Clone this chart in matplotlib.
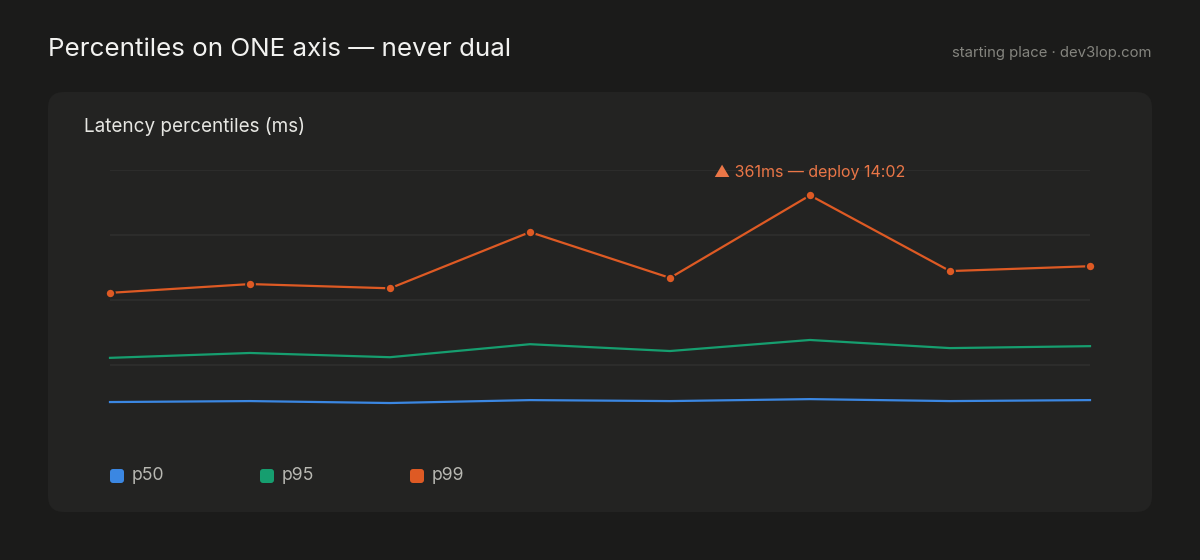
import matplotlib.pyplot as plt
from matplotlib.patches import FancyBboxPatch

plt.rcParams['font.family'] = ['Inter', 'DejaVu Sans']

# data
slots = list(range(8))
p50 = [43, 44.5, 41.5, 46, 44.5, 47.5, 44.5, 46]
p95 = [111, 118.5, 112, 132, 121.5, 138.5, 126, 129]
p99 = [211, 224.5, 218, 304.5, 234, 361, 244.5, 252]
series_names = ['p50', 'p95', 'p99']
series_colors = ['#3b87e2', '#169e6f', '#de5a24']
y_ticks = [100, 200, 300, 400]
peak_label = '▲ 361ms — deploy 14:02'

bg = '#1b1b1a'
card = '#232322'

fig = plt.figure(figsize=(12, 5.6), dpi=100, facecolor=bg)

# overlay in pixel coords for the card, titles and legend
ov = fig.add_axes([0, 0, 1, 1])
ov.set_xlim(0, 1200)
ov.set_ylim(560, 0)
ov.axis('off')
ov.add_patch(FancyBboxPatch((48, 92), 1104, 420, boxstyle='round,pad=0,rounding_size=16',
                            facecolor=card, edgecolor='none'))
ov.text(48, 49, 'Percentiles on ONE axis — never dual', color='#f2f2f0', fontsize=18.7,
        va='center', ha='left')
ov.text(1152, 53, 'starting place · dev3lop.com', color='#85857f', fontsize=10.7,
        va='center', ha='right')
ov.text(84, 127, 'Latency percentiles (ms)', color='#e6e6e2', fontsize=13.6,
        va='center', ha='left')

for i, (name, col) in enumerate(zip(series_names, series_colors)):
    x0 = 110 + i * 150
    ov.add_patch(FancyBboxPatch((x0, 469), 14, 14, boxstyle='round,pad=0,rounding_size=3',
                                facecolor=col, edgecolor='none'))
    ov.text(x0 + 22, 476, name, color='#b8b8b2', fontsize=12.7, va='center', ha='left')

# main plot
ax = fig.add_axes([110 / 1200, 130 / 560, 980 / 1200, 260 / 560])
ax.set_facecolor('none')
ax.set_xlim(0, 7)
ax.set_ylim(0, 400)
for s in ax.spines.values():
    s.set_visible(False)
ax.set_xticks([])
ax.set_yticks(y_ticks)
ax.tick_params(length=0, labelleft=False)
ax.grid(axis='y', color='#2f2f2e', linewidth=1.2)
ax.set_axisbelow(True)

ax.plot(slots, p50, color=series_colors[0], linewidth=1.6, clip_on=False)
ax.plot(slots, p95, color=series_colors[1], linewidth=1.6, clip_on=False)
ax.plot(slots, p99, color=series_colors[2], linewidth=1.6, clip_on=False,
        marker='o', markersize=6.5, markeredgecolor=card, markeredgewidth=1.2)

pk = p99.index(max(p99))
ax.annotate(peak_label, (slots[pk], p99[pk]), xytext=(0, 16.5), textcoords='offset points',
            ha='center', va='center', color='#ea7647', fontsize=11.5)

fig.savefig('out.png', dpi=100, facecolor=bg)
